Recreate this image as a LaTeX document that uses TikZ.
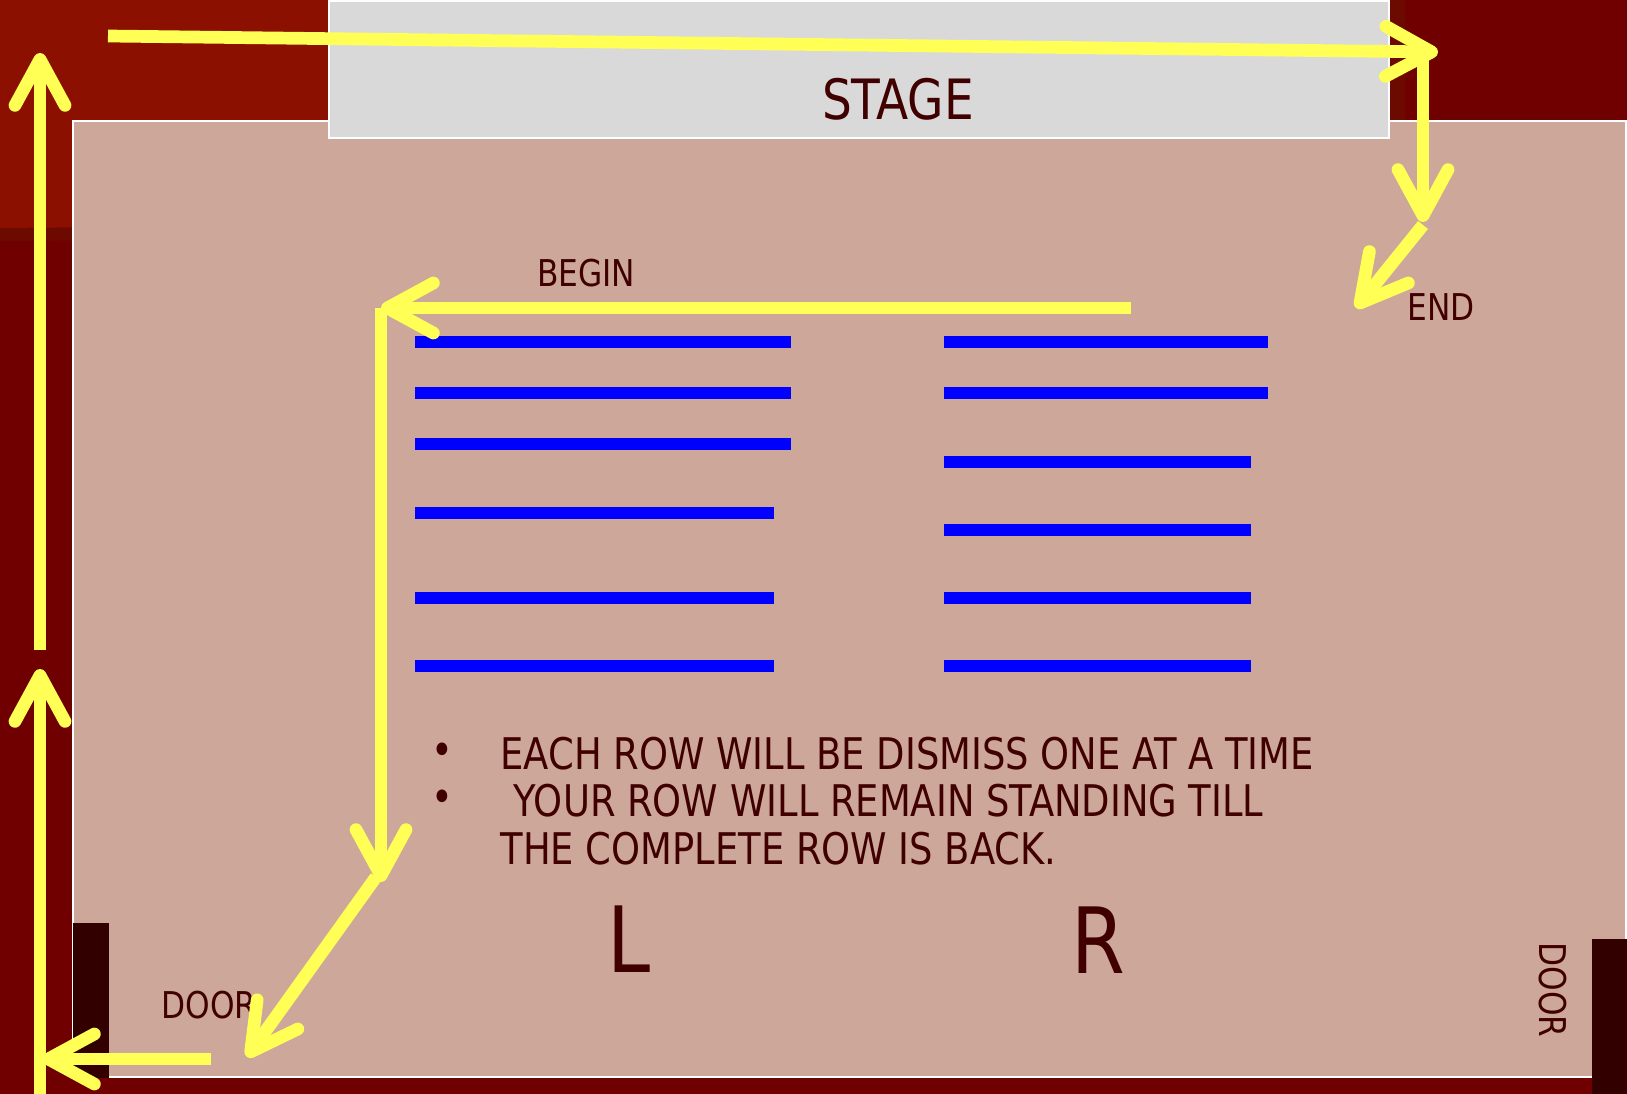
\documentclass[tikz,border=0pt]{standalone}
\usepackage{fontspec}
\setmainfont{DejaVu Sans Condensed}[FakeStretch=0.94]
\usetikzlibrary{arrows.meta}

\definecolor{wallred}{RGB}{112,0,0}
\definecolor{glowred}{RGB}{140,16,0}
\definecolor{bandred}{RGB}{108,10,0}
\definecolor{floorpink}{RGB}{204,167,154}
\definecolor{stagegrey}{RGB}{217,217,217}
\definecolor{doorbrown}{RGB}{51,0,0}
\definecolor{inkred}{RGB}{64,0,0}
\definecolor{pathyellow}{RGB}{255,255,85}
\definecolor{rowblue}{RGB}{0,0,255}

\begin{document}
\begin{tikzpicture}[x=0.01cm, y=-0.01cm]
        % Define styles
        \tikzstyle{walk} = [draw=pathyellow, line width=1.27mm, -{Straight Barb[length=4.6mm, width=5mm, round]}]
        \tikzstyle{seatrow} = [draw=rowblue, line width=1.25mm]
        \tikzstyle{hint} = [text=inkred, inner sep=0pt, font=\fontsize{10.5}{12}\selectfont]
        \tikzstyle{notice} = [text=inkred, inner sep=0pt, anchor=west, font=\fontsize{12.4}{15}\selectfont]
        \tikzstyle{side} = [text=inkred, inner sep=0pt, font=\fontsize{26}{30}\selectfont]

        \useasboundingbox (0,0) rectangle (1627,1094);

        % Walls, floor and stage
        \fill[wallred] (0,0) rectangle (1627,1094);
        \fill[bandred] (0,0) -- (1405,0) -- (1405,228) -- (0,241) -- cycle;
        \fill[glowred] (0,0) -- (1390,0) -- (1390,216) -- (0,228) -- cycle;
        \draw[white, fill=floorpink, line width=0.2mm] (73,121) rectangle (1626,1077);
        \draw[white, fill=stagegrey, line width=0.2mm] (329,1) rectangle (1389,138);
        \fill[doorbrown] (73,923) rectangle (109,1078);
        \fill[doorbrown] (1592,939) rectangle (1627,1094);

        % Rows of seats
        \foreach \y in {342,393,444} \draw[seatrow] (415,\y) -- (791,\y);
        \foreach \y in {513,598,666} \draw[seatrow] (415,\y) -- (774,\y);
        \foreach \y in {342,393} \draw[seatrow] (944,\y) -- (1268,\y);
        \foreach \y in {462,530,598,666} \draw[seatrow] (944,\y) -- (1251,\y);

        % Place labels
        \node[hint, font=\fontsize{15.8}{18}\selectfont] (stage) at (898,99) {STAGE};
        \node[hint] (begin) at (586,273) {BEGIN};
        \node[hint] (end) at (1441,307) {END};
        \node[hint] (doorL) at (209,1005) {DOOR};
        \node[hint, rotate=-90] (doorR) at (1553,990) {DOOR};
        \node[notice, anchor=center] (dotA) at (442,754) {•};
        \node[notice, anchor=center] (dotB) at (442,801) {•};
        \node[notice] (lineA) at (500,754) {EACH ROW WILL BE DISMISS ONE AT A TIME};
        \node[notice] (lineB) at (513,801) {YOUR ROW WILL REMAIN STANDING TILL};
        \node[notice] (lineC) at (500,849) {THE COMPLETE ROW IS BACK.};
        \node[side] (left) at (629,939) {L};
        \node[side] (right) at (1098,940) {R};

        % Corners of the walk
        \coordinate (topA) at (108,36);
        \coordinate (topB) at (1438,52);
        \coordinate (cornerA) at (1423,55);
        \coordinate (cornerB) at (1423,222);
        \coordinate (cornerC) at (1423,225);
        \coordinate (endTip) at (1356,308);
        \coordinate (beginA) at (1131,308);
        \coordinate (beginB) at (381,308);
        \coordinate (aisleB) at (381,882);
        \coordinate (aisleC) at (376,877);
        \coordinate (doorTip) at (247,1057);
        \coordinate (exitA) at (211,1059);
        \coordinate (exitB) at (42,1059);
        \coordinate (wallA) at (40,1094);
        \coordinate (wallB) at (40,669);
        \coordinate (wallC) at (40,650);
        \coordinate (wallD) at (40,53);

        % Draw the walk as arrows
        \draw[walk] (beginA) -- (beginB);
        \draw[walk] (beginB) -- (aisleB);
        \draw[walk] (aisleC) -- (doorTip);
        \draw[walk] (exitA) -- (exitB);
        \draw[walk] (wallA) -- (wallB);
        \draw[walk] (wallC) -- (wallD);
        \draw[walk] (topA) -- (topB);
        \draw[walk] (cornerA) -- (cornerB);
        \draw[walk] (cornerC) -- (endTip);
    \end{tikzpicture}
\end{document}
